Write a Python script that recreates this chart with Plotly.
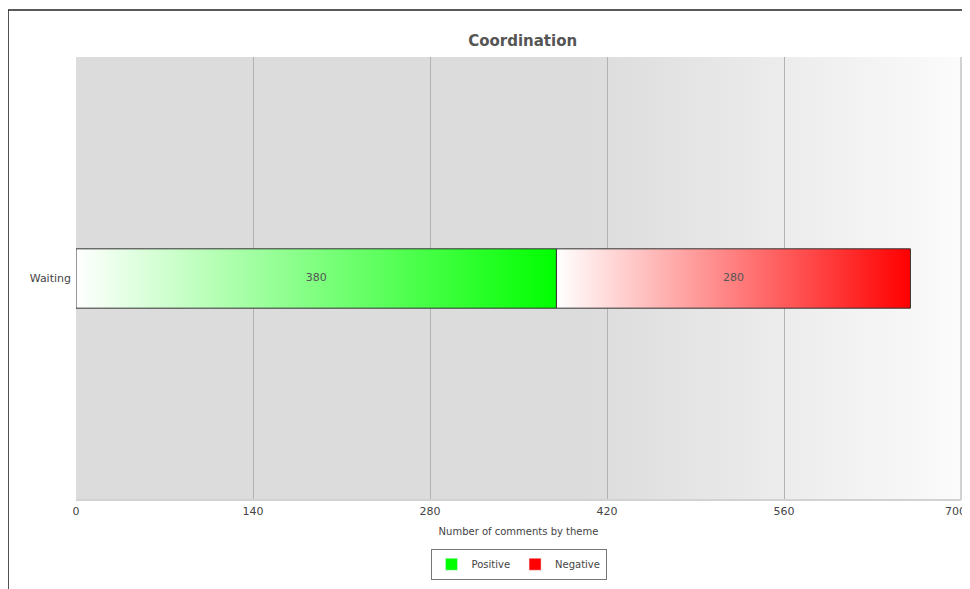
import base64
import plotly.graph_objects as go

# data
categories = ['Waiting']
series_names = ['Positive', 'Negative']
series_values = [380, 280]
series_colors = ['#00ff00', '#ff0000']
x_ticks = [0, 140, 280, 420, 560, 700]

bar_half = 0.067

# gradient for the plot background (grey -> near white on the right)
svg = ('<svg xmlns="http://www.w3.org/2000/svg" width="100" height="100" preserveAspectRatio="none">'
       '<defs><linearGradient id="g" x1="0" x2="1" y1="0" y2="0">'
       '<stop offset="0.58" stop-color="#dcdcdc"/><stop offset="1" stop-color="#fbfbfb"/>'
       '</linearGradient></defs><rect width="100" height="100" fill="url(#g)"/></svg>')
bg_src = 'data:image/svg+xml;base64,' + base64.b64encode(svg.encode()).decode()

fig = go.Figure()

start = 0
for name, val, col in zip(series_names, series_values, series_colors):
    x0, x1 = start, start + val
    fig.add_trace(go.Scatter(
        x=[x0, x1, x1, x0, x0],
        y=[-bar_half, -bar_half, bar_half, bar_half, -bar_half],
        mode='lines', fill='toself',
        fillgradient=dict(type='horizontal',
                          colorscale=[[0, '#ffffff'], [1, col]]),
        line=dict(color='#333333', width=1),
        showlegend=False, hoverinfo='skip'))
    fig.add_trace(go.Scatter(
        x=[(x0 + x1) / 2], y=[0], mode='text', text=[str(val)],
        textfont=dict(size=11, color='#555555'),
        showlegend=False, hoverinfo='skip'))
    # legend entry
    fig.add_trace(go.Bar(x=[None], y=[None], name=name, orientation='h',
                         marker=dict(color=col)))
    start = x1

# last tick label sits at the right edge: draw it right-aligned so it isn't cut
tick_text = [str(t) for t in x_ticks[:-1]] + ['']
last_tick = dict(x=x_ticks[-1], xref='x', y=0, yref='paper', text=str(x_ticks[-1]),
                 showarrow=False, xanchor='right', yanchor='top', xshift=7,
                 yshift=-3, font=dict(size=11, color='#444444'))

# the page body adds an 8px offset, so the figure is 962x581
fig.update_layout(
    width=962, height=581,
    margin=dict(l=68, r=9, t=49, b=89),
    paper_bgcolor='white', plot_bgcolor='#dcdcdc',
    font=dict(family='DejaVu Sans', size=11, color='#444444'),
    title=dict(text='<b>Coordination</b>', x=0.535, xanchor='center',
               y=0.944, yanchor='middle',
               font=dict(size=15, color='#555555')),
    xaxis=dict(range=[0, 700], tickvals=x_ticks, ticktext=tick_text,
               showgrid=True, gridcolor='#b2b2b2', gridwidth=1,
               zeroline=False, ticks='', fixedrange=True,
               ticklabelstandoff=3, automargin=False,
               title=dict(text='Number of comments by theme',
                          font=dict(size=10, color='#444444'), standoff=10)),
    yaxis=dict(range=[-0.5, 0.5], tickvals=[0], ticktext=categories,
               showgrid=False, zeroline=False, ticks='',
               ticklabelstandoff=4, automargin=False),
    legend=dict(orientation='h', x=0.5, xanchor='center', y=-0.11,
                yanchor='top', bordercolor='#777777', borderwidth=1,
                font=dict(size=10, color='#444444')),
    annotations=[last_tick],
    images=[dict(source=bg_src, xref='paper', yref='paper', x=0, y=1,
                 sizex=1, sizey=1, sizing='stretch', layer='below',
                 xanchor='left', yanchor='top')],
    shapes=[
        dict(type='line', xref='paper', yref='paper', x0=1, x1=1, y0=0, y1=1,
             line=dict(color='#d2d2d2', width=2)),
        dict(type='line', xref='paper', yref='paper', x0=0, x1=1, y0=0, y1=0,
             line=dict(color='#d2d2d2', width=2)),
        dict(type='line', xref='paper', yref='paper', x0=-0.0768, x1=1.02,
             y0=1.106, y1=1.106, line=dict(color='#222222', width=1.5)),
        dict(type='line', xref='paper', yref='paper', x0=-0.0768, x1=-0.0768,
             y0=1.106, y1=-0.3, line=dict(color='#222222', width=1.5)),
    ],
)

fig.write_html('out.html')
